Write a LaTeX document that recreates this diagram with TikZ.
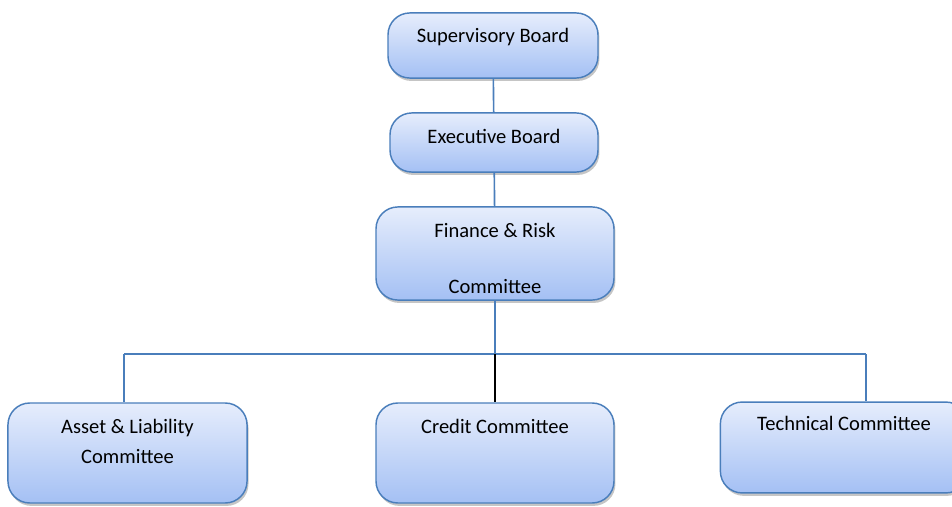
\documentclass[tikz,border=0pt]{standalone}
\usepackage{fontspec}
\setmainfont{Carlito}
\usetikzlibrary{shadows}
\definecolor{boxline}{HTML}{4A7EBB}
\definecolor{boxtop}{HTML}{E6EDFC}
\definecolor{boxbot}{HTML}{A4C0F4}
\begin{document}
\begin{tikzpicture}[x=0.55pt, y=-0.55pt]
  %
  \tikzstyle{org} = [draw=boxline, line width=0.8pt, rounded corners=12pt, top color=boxtop, bottom color=boxbot,
    drop shadow={shadow xshift=0.8pt, shadow yshift=-1.6pt, fill=black!45}, inner sep=0pt, text height=8pt,
    font=\fontsize{11.3}{13.6}\selectfont, align=center]
  \tikzstyle{link} = [draw=boxline, line width=0.9pt]
  \useasboundingbox (0,0) rectangle (952,507);
  %
  \node[org, minimum width=115.5pt, minimum height=35.8pt, text depth=11.2pt] (supervisory) at (493,45.5) {Supervisory Board};
  \node[org, minimum width=114.4pt, minimum height=32.5pt, text depth=6.8pt] (executive) at (494,142.5) {Executive Board};
  \node[org, minimum width=130.9pt, minimum height=51.2pt, text height=44pt, text depth=0pt] (finance) at (495,253.5) {Finance \& Risk\\[17pt]Committee};
  \node[org, minimum width=131.5pt, minimum height=55pt, text height=11.6pt, text depth=0pt] (asset) at (127.5,453) {Asset \& Liability\\[3pt]Committee};
  \node[org, minimum width=130.9pt, minimum height=55pt, text depth=29.4pt] (credit) at (495,453) {Credit Committee};
  \node[org, minimum width=136pt, minimum height=50pt, text depth=26.6pt] (technical) at (844,447.5) {Technical Committee};
  %
  \coordinate (busL) at (124,354);
  \coordinate (busC) at (495,354);
  \coordinate (busR) at (866,354);
  %
  \draw[link] (supervisory) -- (executive);
  \draw[link] (executive) -- (finance);
  \draw[link] (finance.south) -- (busC);
  \draw[link] (busL) -- (busR);
  \draw[link] (busL) -- (busL |- asset.north);
  \draw[link] (busR) -- (busR |- technical.north);
  \draw[line width=0.9pt] (busC) -- (credit.north);
\end{tikzpicture}
\end{document}
